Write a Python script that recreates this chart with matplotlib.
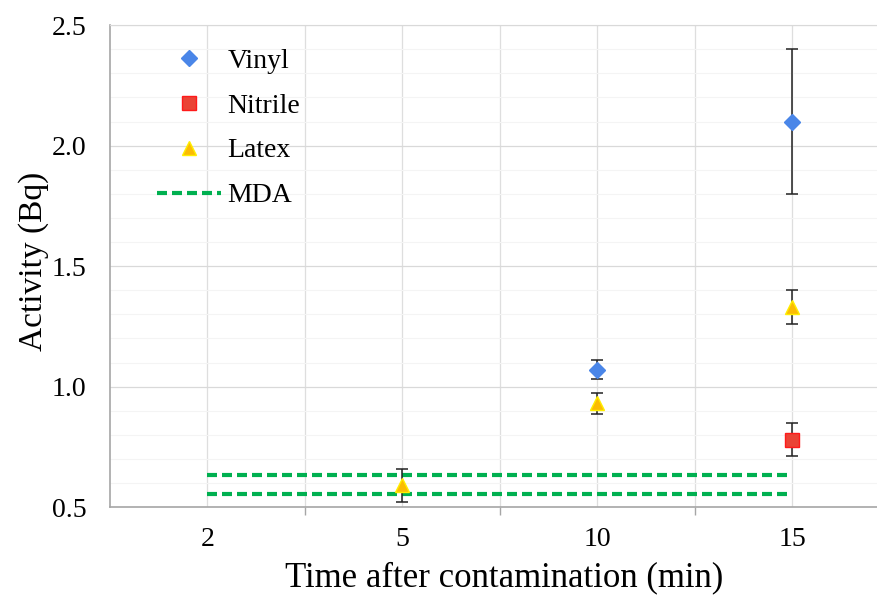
import matplotlib
matplotlib.use("Agg")
import matplotlib.pyplot as plt
import numpy as np
from matplotlib.ticker import MultipleLocator, FixedLocator, FormatStrFormatter
from matplotlib.lines import Line2D

plt.rcParams['font.family'] = ['Liberation Serif', 'DejaVu Serif']

categories = ['2', '5', '10', '15']

vinyl_idx = [2, 3]
vinyl_val = [1.07, 2.10]
vinyl_err = [0.04, 0.30]

nitrile_idx = [3]
nitrile_val = [0.78]
nitrile_err = [0.07]

latex_idx = [1, 2, 3]
latex_val = [0.59, 0.93, 1.33]
latex_err = [0.07, 0.045, 0.07]

mda_levels = [0.635, 0.555]

C_VINYL = '#4a86e8'
C_NITRILE = '#ea4335'
C_LATEX = '#fbbc04'
C_MDA = '#00b050'

fig = plt.figure(figsize=(8.78, 5.98), dpi=100)
ax = fig.add_axes([0.1253, 0.152, 0.8747, 0.806])

x = np.arange(len(categories))
ax.set_xlim(-0.5, 3.44)
ax.set_ylim(0.5, 2.5)

# grids
ax.yaxis.set_major_locator(MultipleLocator(0.5))
ax.yaxis.set_minor_locator(MultipleLocator(0.1))
ax.grid(which='major', axis='y', color='#d9d9d9', lw=0.9, zorder=0)
ax.grid(which='minor', axis='y', color='#f4f4f4', lw=0.8, zorder=0)
ax.set_axisbelow(True)
for v in np.arange(0, 3.5, 0.5):
    ax.axvline(v, color='#dedede', lw=0.9, zorder=0)

ax.set_xticks(x)
ax.set_xticklabels(categories)
ax.xaxis.set_minor_locator(FixedLocator([0.5, 1.5, 2.5]))
ax.tick_params(axis='x', which='major', length=0, pad=14, labelsize=20)
ax.tick_params(axis='x', which='minor', length=6, width=1, color='#a6a6a6', direction='out')
ax.tick_params(axis='y', which='both', length=0, pad=17, labelsize=20)
ax.yaxis.set_major_formatter(FormatStrFormatter('%.1f'))

for s in ['left', 'bottom']:
    ax.spines[s].set_color('#a6a6a6')
    ax.spines[s].set_linewidth(1.2)
ax.spines['top'].set_color('#d9d9d9')
ax.spines['right'].set_visible(False)

ekw = dict(ecolor='#222222', elinewidth=1.1, capsize=4, capthick=1.1, ls='none', zorder=3)
ax.errorbar(vinyl_idx, vinyl_val, yerr=vinyl_err, marker='D', ms=8, mfc=C_VINYL,
            mec=C_VINYL, **ekw)
ax.errorbar(nitrile_idx, nitrile_val, yerr=nitrile_err, marker='s', ms=10, mfc=C_NITRILE,
            mec='#ff1a1a', **ekw)
ax.errorbar(latex_idx, latex_val, yerr=latex_err, marker='^', ms=10, mfc=C_LATEX,
            mec='#ffee00', **ekw)
for lvl in mda_levels:
    ax.plot([x[0], x[-1]], [lvl, lvl], color=C_MDA, lw=3.0, dashes=(2.4, 1.2), zorder=2)

h = [Line2D([], [], marker='D', ms=8, color=C_VINYL, ls='none'),
     Line2D([], [], marker='s', ms=10, mfc=C_NITRILE, mec='#ff1a1a', ls='none'),
     Line2D([], [], marker='^', ms=10, mfc=C_LATEX, mec='#ffee00', ls='none'),
     Line2D([], [], color=C_MDA, lw=3.0, dashes=(2.4, 1.2))]
leg = ax.legend(h, ['Vinyl', 'Nitrile', 'Latex', 'MDA'], loc='upper left',
                bbox_to_anchor=(0.029, 1.004), frameon=False, fontsize=20,
                labelspacing=0.7, handlelength=2.3, handletextpad=0.22,
                borderpad=0.4)

ax.set_xlabel('Time after contamination (min)', fontsize=25, labelpad=7, x=0.513)
ax.set_ylabel('Activity (Bq)', fontsize=24, labelpad=2, y=0.51)

fig.savefig('out.png', dpi=100)
